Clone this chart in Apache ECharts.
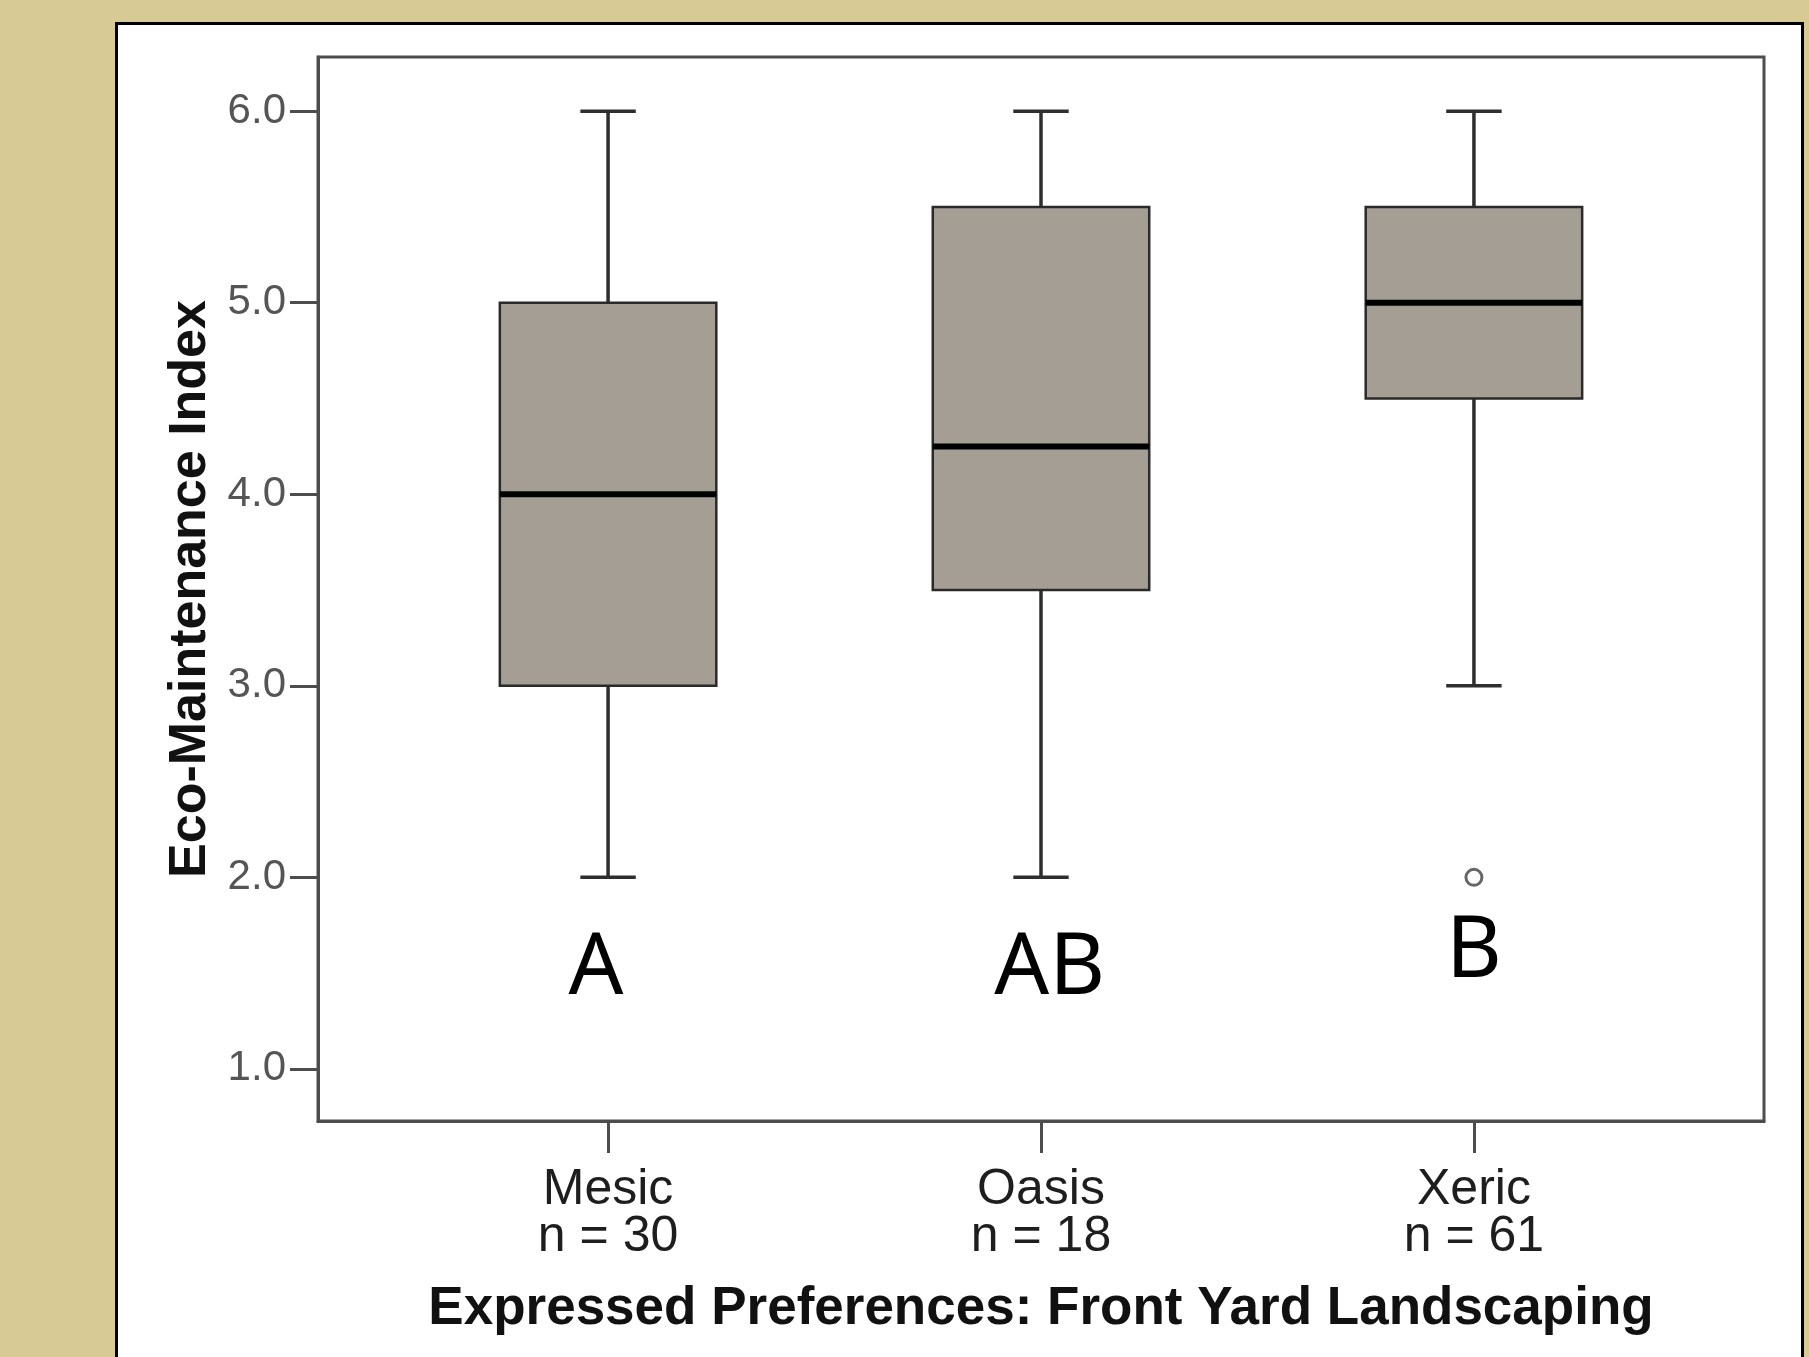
<!DOCTYPE html>
<html>
<head>
<meta charset="utf-8">
<script src="https://cdn.jsdelivr.net/npm/echarts@6/dist/echarts.min.js"></script>
<style>
html,body{margin:0;padding:0;background:#d7ca95;}
#chart{width:1809px;height:1357px;}
</style>
</head>
<body>
<div id="chart"></div>
<script>
// ---- data ----
const categories = ['Mesic', 'Oasis', 'Xeric'];
const sampleSizes = [30, 18, 61];
const whiskerLow = [2.0, 2.0, 3.0];
const quartile1 = [3.0, 3.5, 4.5];
const medians = [4.0, 4.25, 5.0];
const quartile3 = [5.0, 5.5, 5.5];
const whiskerHigh = [6.0, 6.0, 6.0];
const outliers = [[3, 2.0]];            // [category position, value]
const yTicks = [1, 2, 3, 4, 5, 6];
const xTicks = [1, 2, 3];
const groupLetters = ['A', 'AB', 'B'];
const letterX = [0.972, 2.02, 3.0];
const letterY = [1.52, 1.52, 1.61];

const boxData = categories.map((c, i) => [i + 1, whiskerLow[i], quartile1[i], medians[i], quartile3[i], whiskerHigh[i]]);
const letterData = groupLetters.map((l, i) => [letterX[i], letterY[i], l]);

const BOX_FRAC = 0.5, CAP_FRAC = 0.128;
const chart = echarts.init(document.getElementById('chart'), null, {renderer: 'canvas'});

chart.setOption({
  backgroundColor: '#d7ca95',
  animation: false,
  graphic: [{
    type: 'rect', left: 115, top: 22, z: -10,
    shape: {width: 1686, height: 1360},
    style: {fill: '#ffffff', stroke: '#000000', lineWidth: 3}
  }],
  grid: {
    left: 318, top: 57, right: 45, bottom: 236,
    show: true, backgroundColor: 'transparent', borderColor: '#4d4d4d', borderWidth: 3
  },
  xAxis: {
    type: 'value', min: 0.33, max: 3.67,
    splitLine: {show: false},
    axisLine: {show: true, onZero: false, lineStyle: {color: '#4d4d4d', width: 3}},
    axisTick: {show: true, length: 32, customValues: xTicks, lineStyle: {color: '#4d4d4d', width: 3}},
    axisLabel: {
      customValues: xTicks, margin: 46,
      formatter: v => categories[Math.round(v) - 1] + '\nn = ' + sampleSizes[Math.round(v) - 1],
      color: '#1e1e1e', fontFamily: 'Liberation Sans, Arial', fontSize: 50, lineHeight: 47
    },
    name: 'Expressed Preferences: Front Yard Landscaping',
    nameLocation: 'middle', nameGap: 162,
    nameTextStyle: {color: '#111', fontFamily: 'Liberation Sans, Arial', fontWeight: 'bold', fontSize: 53}
  },
  yAxis: {
    type: 'value', min: 0.728, max: 6.283,
    splitLine: {show: false},
    axisLine: {show: true, onZero: false, lineStyle: {color: '#4d4d4d', width: 3}},
    axisTick: {show: true, length: 28, customValues: yTicks, lineStyle: {color: '#4d4d4d', width: 3}},
    axisLabel: {
      customValues: yTicks, margin: 32,
      formatter: v => v.toFixed(1),
      color: '#555', fontFamily: 'Liberation Sans, Arial', fontSize: 42
    },
    name: 'Eco-Maintenance Index',
    nameLocation: 'middle', nameGap: 97, nameRotate: 90,
    nameTextStyle: {color: '#111', fontFamily: 'Liberation Sans, Arial', fontWeight: 'bold', fontSize: 52}
  },
  series: [{
    type: 'custom',
    data: boxData,
    encode: {x: 0, y: [1, 2, 3, 4, 5]},
    renderItem: function (params, api) {
      const x = api.value(0);
      const bw = api.size([1, 0])[0];
      const half = bw * BOX_FRAC / 2, capHalf = bw * CAP_FRAC / 2;
      const pLo = api.coord([x, api.value(1)]);
      const pQ1 = api.coord([x, api.value(2)]);
      const pMed = api.coord([x, api.value(3)]);
      const pQ3 = api.coord([x, api.value(4)]);
      const pHi = api.coord([x, api.value(5)]);
      const ws = {stroke: '#2e2e2e', lineWidth: 3.5};
      return {type: 'group', children: [
        {type: 'line', shape: {x1: pHi[0], y1: pHi[1], x2: pQ3[0], y2: pQ3[1]}, style: ws},
        {type: 'line', shape: {x1: pQ1[0], y1: pQ1[1], x2: pLo[0], y2: pLo[1]}, style: ws},
        {type: 'line', shape: {x1: pHi[0] - capHalf, y1: pHi[1], x2: pHi[0] + capHalf, y2: pHi[1]}, style: ws},
        {type: 'line', shape: {x1: pLo[0] - capHalf, y1: pLo[1], x2: pLo[0] + capHalf, y2: pLo[1]}, style: ws},
        {type: 'rect', shape: {x: pQ3[0] - half, y: pQ3[1], width: half * 2, height: pQ1[1] - pQ3[1]},
          style: {fill: '#a59e94', stroke: '#2a2a2a', lineWidth: 2.5}},
        {type: 'line', shape: {x1: pMed[0] - half, y1: pMed[1], x2: pMed[0] + half, y2: pMed[1]},
          style: {stroke: '#000', lineWidth: 6}}
      ]};
    }
  }, {
    type: 'scatter',
    data: outliers,
    symbol: 'circle', symbolSize: 16,
    itemStyle: {color: '#fff', borderColor: '#666', borderWidth: 3, opacity: 1}
  }, {
    type: 'scatter',
    data: letterData,
    symbolSize: 0,
    itemStyle: {opacity: 1},
    label: {
      show: true, position: 'inside',
      formatter: p => p.value[2],
      color: '#000', opacity: 1, fontFamily: 'Noto Sans, Open Sans', fontSize: 86
    }
  }]
});
</script>
</body>
</html>
